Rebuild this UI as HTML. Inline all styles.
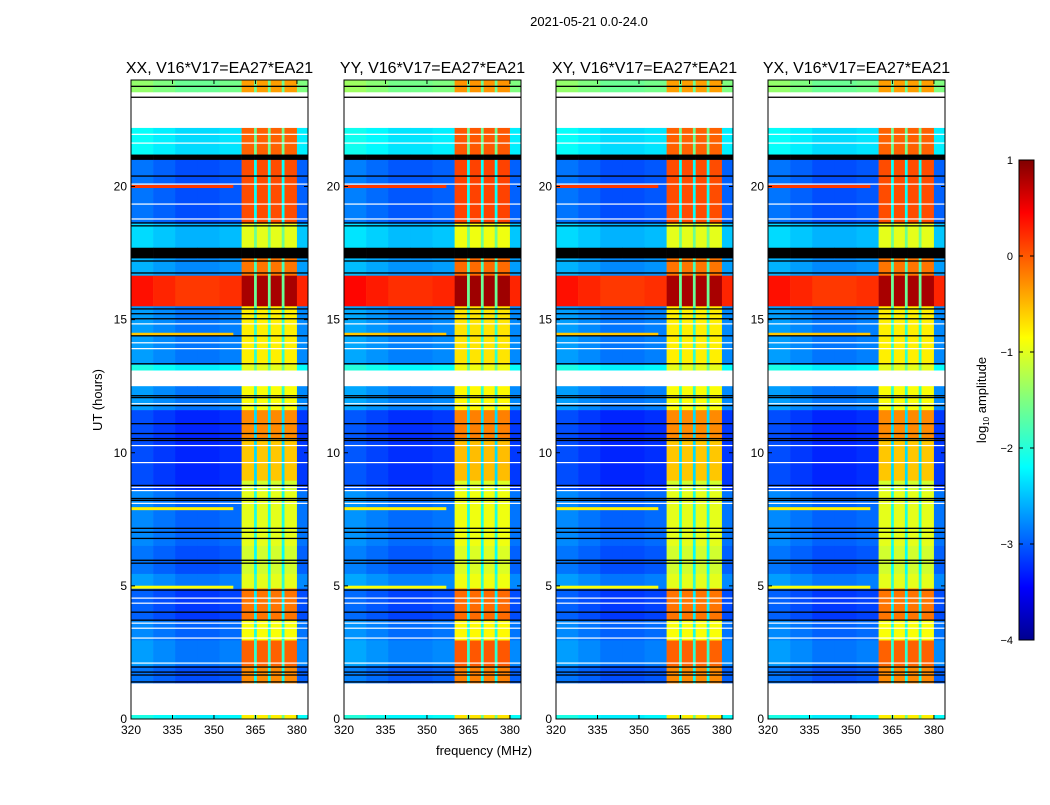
<!DOCTYPE html>
<html><head><meta charset="utf-8"><style>
body{margin:0;background:#fff;width:1050px;height:800px;overflow:hidden;font-family:"Liberation Sans",sans-serif}
svg text{font-family:"Liberation Sans",sans-serif}
</style></head><body>
<svg id="fig" width="1050" height="800" xmlns="http://www.w3.org/2000/svg">
<text x="589" y="26" font-size="13" text-anchor="middle">2021-05-21 0.0-24.0</text>
<text x="484" y="755" font-size="13" text-anchor="middle">frequency (MHz)</text>
<text x="0" y="0" font-size="13" text-anchor="middle" transform="translate(102,400) rotate(-90)">UT (hours)</text>
<defs><linearGradient id="cbg" x1="0" y1="1" x2="0" y2="0">
<stop offset="0" stop-color="#00008f"/><stop offset="0.11" stop-color="#0000ff"/><stop offset="0.36" stop-color="#00ffff"/><stop offset="0.5" stop-color="#80ff80"/><stop offset="0.63" stop-color="#ffff00"/><stop offset="0.89" stop-color="#ff0000"/><stop offset="1" stop-color="#800000"/></linearGradient></defs>
<rect x="1019" y="160" width="15" height="480" fill="url(#cbg)" stroke="#000" stroke-width="1"/>
<text x="0" y="0" font-size="13" text-anchor="middle" transform="translate(986,400) rotate(-90)">log<tspan font-size="8" dy="3">10</tspan><tspan dy="-3"> amplitude</tspan></text>
<g id="cbticks"></g>
</svg>
<script>
const panelTitles=["XX, V16*V17=EA27*EA21","YY, V16*V17=EA27*EA21","XY, V16*V17=EA27*EA21","YX, V16*V17=EA27*EA21"];
const panelX=[131,344,556,768];
const panelOffset=[0,0.05,0,0];
const xTicks=[320,335,350,365,380];
const yTicks=[0,5,10,15,20];
const cbTicks=[1,0,-1,-2,-3,-4];
// frequency bins: edges and type
const freqEdges=[320,328,336,344,352,360,364.5,365.5,369.5,370.5,374.5,375.5,380,384];
const freqType=['bg','bg','bg','bg','bg','rfi','gap','rfi','gap','rfi','gap','rfi','edge'];
const bgProfile=[0.2,0.1,0,0,0.05,0,0,0,0,0,0,0,0];
// time segments: start hour, end hour, background level, rfi level
const segStart=[23.55,21.2,21.0,18.6,17.7,17.3,16.65,15.5,13.3,13.1,11.6,10.5,8.95,8.6,6.5,5.45,4.9,3.7,2.95,2.0,1.35,0];
const segEnd  =[24.0,22.2,21.2,21.0,18.6,17.7,17.3,16.65,15.5,13.3,12.5,11.6,10.5,8.95,8.6,6.5,5.45,4.9,3.7,2.95,2.0,0.15];
const segBg   =[-1.6,-2.3,-9,-3.0,-2.5,-9,-2.7,0.1,-2.8,-2.2,-2.8,-3.2,-3.2,-3.2,-2.9,-3.0,-2.8,-3.1,-2.9,-2.8,-3.0,-2.2];
const segRfi  =[-0.4,-0.1,-9,0.0,-1.0,-9,-0.2,0.8,-0.8,-1.0,-0.9,-0.3,-0.6,-1.1,-1.0,-1.1,-1.0,-0.2,-0.9,-0.1,-0.3,-0.8];
const blackLines=[23.76,23.35,20.39,18.63,18.52,17.2,16.75,15.40,15.22,15.03,14.39,13.34,12.14,12.07,11.77,11.09,10.72,10.53,10.46,8.77,8.28,8.21,7.16,7.01,6.78,5.96,5.85,4.84,4.01,3.71,1.95,1.76,1.65,1.39];
const whiteLines=[21.96,21.63,20.09,19.34,18.78,14.84,14.13,13.91,11.84,10.27,9.63,8.70,8.58,8.10,4.54,4.35,3.60,3.41,3.04,2.10];
const streakHours=[20.0,14.45,7.9,4.95];
const streakLevel=[0.1,-0.6,-0.8,-0.9];

const NS="http://www.w3.org/2000/svg",fig=document.getElementById('fig');
const Y0=719,Y1=80,W=177;
function yS(h){return Y0-h*(Y0-Y1)/24;}
function jet(v){let t=(v+4)/5;t=Math.max(0,Math.min(1,t));
 const c=x=>Math.round(255*Math.max(0,Math.min(1,x)));
 return `rgb(${c(Math.min(4*t-1.5,-4*t+4.5))},${c(Math.min(4*t-0.5,-4*t+3.5))},${c(Math.min(4*t+0.5,-4*t+2.5))})`;}
function mk(tag,a,p){const e=document.createElementNS(NS,tag);for(const k in a)e.setAttribute(k,a[k]);(p||fig).appendChild(e);return e;}
panelX.forEach((x0,pi)=>{
 const xS=f=>x0+(f-320)*W/64;
 const g=mk('g',{});
 
 
 mk('rect',{x:x0,y:Y1,width:W,height:Y0-Y1,fill:'#fff'},g);
 for(let s=0;s<segStart.length;s++){
  for(let b=0;b<freqType.length;b++){
   let v;const t=freqType[b];
   if(segBg[s]<-8)v=null;
   else if(t==='bg')v=segBg[s]+bgProfile[b]+panelOffset[pi];
   else if(t==='rfi')v=segRfi[s]+panelOffset[pi];
   else if(t==='gap')v=Math.min(segBg[s]+0.9,-1.6);
   else v=segBg[s]+0.1;
   const r=mk('rect',{x:xS(freqEdges[b]),y:yS(segEnd[s]),width:xS(freqEdges[b+1])-xS(freqEdges[b])+0.3,height:yS(segStart[s])-yS(segEnd[s])+0.3,fill:v===null?'#000':jet(v)},g);
   
   
  }
 }
 streakHours.forEach((h,i)=>{const r=mk('rect',{x:xS(320),y:yS(h)-1.5,width:xS(357)-xS(320),height:3,fill:jet(streakLevel[i])},g);
  });
 blackLines.forEach(h=>{const l=mk('rect',{x:x0,y:yS(h)-0.7,width:W,height:1.3,fill:'#000'},g);
  });
 whiteLines.forEach(h=>{const l=mk('rect',{x:x0,y:yS(h)-0.6,width:W,height:1.2,fill:'#fff'},g);
  });
 const fr=mk('rect',{x:x0,y:Y1,width:W,height:Y0-Y1,fill:'none',stroke:'#000','stroke-width':1},g);
 
 const tt=mk('text',{x:x0+W/2,y:73,'font-size':16,'text-anchor':'middle'});tt.textContent=panelTitles[pi];
 
 xTicks.forEach(f=>{const x=xS(f);mk('line',{x1:x,x2:x,y1:Y0,y2:Y0-4,stroke:'#000'},g);mk('line',{x1:x,x2:x,y1:Y1,y2:Y1+4,stroke:'#000'},g);
  const t=mk('text',{x:x,y:Y0+15,'font-size':12,'text-anchor':'middle'});t.textContent=f;
  });
 yTicks.forEach(h=>{const y=yS(h);mk('line',{x1:x0,x2:x0+4,y1:y,y2:y,stroke:'#000'},g);mk('line',{x1:x0+W,x2:x0+W-4,y1:y,y2:y,stroke:'#000'},g);
  const t=mk('text',{x:x0-4,y:y+4,'font-size':12,'text-anchor':'end'});t.textContent=h;
  });
});
const cb=document.getElementById('cbticks');
cbTicks.forEach(v=>{const y=640-(v+4)*96;
 mk('line',{x1:1019,x2:1023,y1:y,y2:y,stroke:'#000'},cb);mk('line',{x1:1030,x2:1034,y1:y,y2:y,stroke:'#000'},cb);
 const t=mk('text',{x:1013,y:y+4,'font-size':11,'text-anchor':'end'},cb);t.textContent=v<0?'\u2212'+(-v):v;
 });
</script>
</body></html>
